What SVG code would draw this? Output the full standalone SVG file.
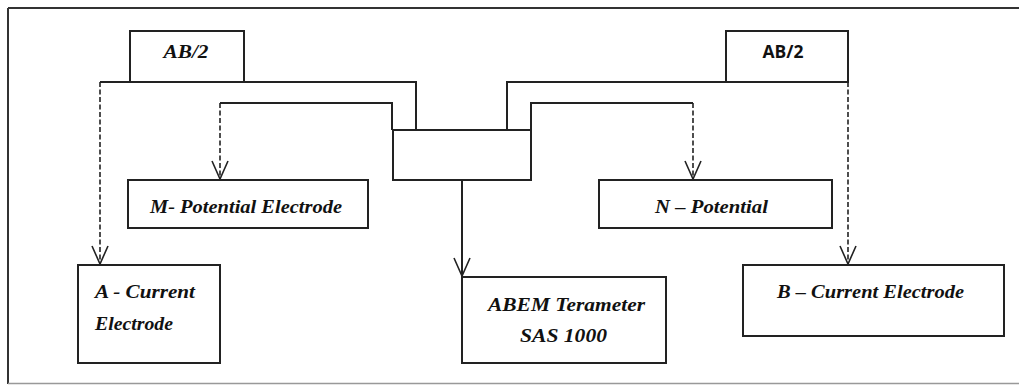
<svg xmlns="http://www.w3.org/2000/svg" width="1019" height="387" viewBox="0 0 1019 387">
<defs>
<marker id="v" viewBox="-20 -10 22 20" markerWidth="22" markerHeight="20" refX="0" refY="0" orient="auto" markerUnits="userSpaceOnUse">
<path d="M-18,-8 L0,0 L-18,8" fill="none" stroke="#222" stroke-width="1.6"/>
</marker>
<style>
.box{fill:#fff;stroke:#222;stroke-width:2}
.ln{fill:none;stroke:#222;stroke-width:2}
.dash{fill:none;stroke:#222;stroke-width:1.6;stroke-dasharray:5,2.5}
.t{font-family:"Liberation Serif","Times New Roman",serif;font-style:italic;font-weight:bold;font-size:19px;fill:#111}
.s{font-family:"Open Sans","Liberation Sans",sans-serif;font-weight:700;font-size:17px;fill:#111}
</style>
</defs>
<rect width="1019" height="387" fill="#fff"/>
<g id="frame">
<line x1="8" y1="8" x2="1019" y2="8" stroke="#333" stroke-width="2"/>
<line x1="8" y1="8" x2="8" y2="384" stroke="#333" stroke-width="2"/>
<line x1="8" y1="383.5" x2="1019" y2="383.5" stroke="#999" stroke-width="1.5"/>
</g>
<g id="connectors">
<path class="ln" d="M100,82 H416 V130"/>
<path class="ln" d="M220,103 H392 V130"/>
<path class="ln" d="M507,130 V82 H848"/>
<path class="ln" d="M531,130 V103 H693"/>
<path class="dash" d="M100,82 V264" marker-end="url(#v)"/>
<path class="dash" d="M220,103 V179" marker-end="url(#v)"/>
<path class="dash" d="M693,103 V179" marker-end="url(#v)"/>
<path class="dash" d="M848,82 V264" marker-end="url(#v)"/>
<path class="ln" d="M462,180 V276" marker-end="url(#v)"/>
</g>
<g id="ab2-left"><rect class="box" x="130" y="31" width="114" height="51"/><text class="t" x="186" y="58" text-anchor="middle" textLength="45" lengthAdjust="spacingAndGlyphs">AB/2</text></g>
<g id="ab2-right"><rect class="box" x="726" y="31" width="122" height="51"/><text class="s" x="783" y="58" text-anchor="middle" textLength="41" lengthAdjust="spacingAndGlyphs">AB/2</text></g>
<g id="meter-hub"><rect class="box" x="393" y="130" width="138" height="50"/></g>
<g id="m-electrode"><rect class="box" x="128" y="180" width="240" height="48"/><text class="t" x="150" y="213" textLength="192" lengthAdjust="spacingAndGlyphs">M- Potential Electrode</text></g>
<g id="n-electrode"><rect class="box" x="599" y="180" width="233" height="48"/><text class="t" x="655" y="213" textLength="113" lengthAdjust="spacingAndGlyphs">N – Potential</text></g>
<g id="a-electrode"><rect class="box" x="78" y="265" width="142" height="98"/><text class="t" x="95" y="298" textLength="100" lengthAdjust="spacingAndGlyphs">A - Current</text><text class="t" x="95" y="330" textLength="78" lengthAdjust="spacingAndGlyphs">Electrode</text></g>
<g id="abem"><rect class="box" x="462" y="277" width="204" height="86"/><text class="t" x="488" y="311" textLength="157" lengthAdjust="spacingAndGlyphs">ABEM Terameter</text><text class="t" x="520" y="342" textLength="87" lengthAdjust="spacingAndGlyphs">SAS 1000</text></g>
<g id="b-electrode"><rect class="box" x="743" y="265" width="261" height="71"/><text class="t" x="777" y="298" textLength="187" lengthAdjust="spacingAndGlyphs">B – Current Electrode</text></g>
</svg>
